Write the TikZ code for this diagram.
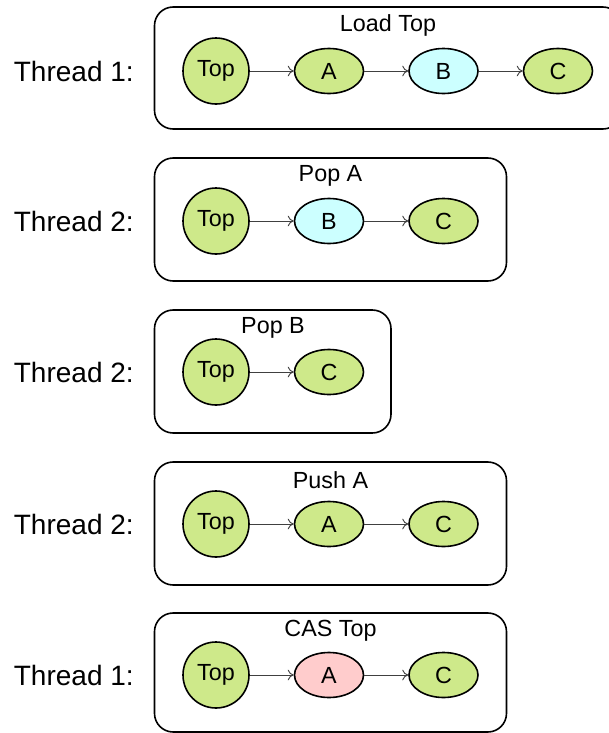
\documentclass[tikz,border=0pt]{standalone}
\usepackage{fontspec}
\setmainfont{Liberation Sans}
\usetikzlibrary{arrows.meta,shapes.geometric}
\definecolor{nodegreen}{RGB}{206,233,138}
\definecolor{nodecyan}{RGB}{204,255,255}
\definecolor{nodepink}{RGB}{255,204,204}
\tikzset{
  threadlabel/.style={anchor=east,font=\fontsize{21}{25}\selectfont,inner sep=0pt},
  boxtitle/.style={font=\fontsize{17.5}{20}\selectfont,inner sep=0pt},
  frame/.style={draw=black,line width=1.2pt,rounded corners=14pt},
  topnode/.style={circle,draw=black,line width=1.2pt,fill=nodegreen,minimum size=49.5pt,inner sep=0pt,font=\fontsize{17.5}{20}\selectfont},
  elem/.style={ellipse,draw=black,line width=1.2pt,minimum width=51.75pt,minimum height=33.75pt,inner sep=0pt,font=\fontsize{17.5}{20}\selectfont},
  green/.style={elem,fill=nodegreen},
  cyan/.style={elem,fill=nodecyan},
  pink/.style={elem,fill=nodepink},
  link/.style={draw=black!75,line width=0.75pt,-{To[length=4.5pt,width=8pt,line width=0.7pt]}}
}
\begin{document}
\begin{tikzpicture}[x=0.75pt,y=-0.75pt]
\useasboundingbox (0,0) rectangle (609,733);
% Row 1
\draw[frame] (154.5,7) rectangle (621.5,129);
\node[boxtitle] (t1) at (388,25) {Load Top};
\node[threadlabel] (l1) at (134,71) {Thread 1:};
\node[topnode] (top1) at (216,71) {Top};
\node[green] (a1) at (329,71) {A};
\node[cyan] (b1) at (443.5,71) {B};
\node[green] (c1) at (558,71) {C};
\draw[link] (top1) -- (a1);
\draw[link] (a1) -- (b1);
\draw[link] (b1) -- (c1);
% Row 2
\draw[frame] (154.5,158) rectangle (506.5,281);
\node[boxtitle] (t2) at (330.5,176) {Pop A};
\node[threadlabel] (l2) at (134,221) {Thread 2:};
\node[topnode] (top2) at (216,221) {Top};
\node[cyan] (b2) at (329,221) {B};
\node[green] (c2) at (443.5,221) {C};
\draw[link] (top2) -- (b2);
\draw[link] (b2) -- (c2);
% Row 3
\draw[frame] (154.5,310) rectangle (391,433);
\node[boxtitle] (t3) at (273,328) {Pop B};
\node[threadlabel] (l3) at (134,372) {Thread 2:};
\node[topnode] (top3) at (216,372) {Top};
\node[green] (c3) at (329,372) {C};
\draw[link] (top3) -- (c3);
% Row 4
\draw[frame] (154.5,462) rectangle (506.5,585);
\node[boxtitle] (t4) at (330.5,480) {Push A};
\node[threadlabel] (l4) at (134,524) {Thread 2:};
\node[topnode] (top4) at (216,524) {Top};
\node[green] (a4) at (329,524) {A};
\node[green] (c4) at (443.5,524) {C};
\draw[link] (top4) -- (a4);
\draw[link] (a4) -- (c4);
% Row 5
\draw[frame] (154.5,613) rectangle (506.5,732);
\node[boxtitle] (t5) at (330.5,631) {CAS Top};
\node[threadlabel] (l5) at (134,675) {Thread 1:};
\node[topnode] (top5) at (216,675) {Top};
\node[pink] (a5) at (329,675) {A};
\node[green] (c5) at (443.5,675) {C};
\draw[link] (top5) -- (a5);
\draw[link] (a5) -- (c5);
\end{tikzpicture}
\end{document}
